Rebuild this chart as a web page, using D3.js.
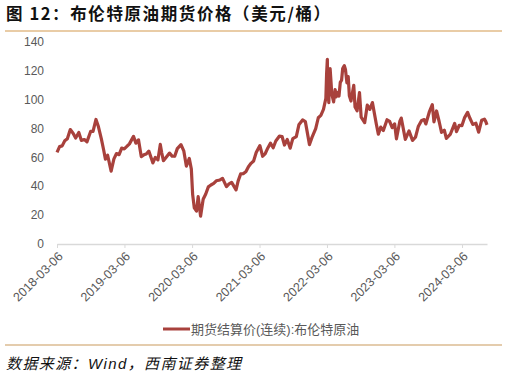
<!DOCTYPE html>
<html>
<head>
<meta charset="utf-8">
<script src="https://cdn.jsdelivr.net/npm/d3@7"></script>
<style>
  body { margin: 0; background: #fff; }
  svg { display: block; font-family: "Liberation Sans", Arial, "Noto Sans CJK SC", sans-serif; }
</style>
</head>
<body>
<div id="chart"></div>
<script>
/* Brent futures settlement (continuous), USD/bbl */
var dates = [
  "2018-03-06","2018-03-20","2018-04-03","2018-04-17","2018-05-01","2018-05-17","2018-06-01","2018-06-15",
  "2018-07-02","2018-07-16","2018-08-01","2018-08-15","2018-09-04","2018-09-17","2018-10-03","2018-10-16",
  "2018-11-01","2018-11-13","2018-11-23","2018-12-05","2018-12-24","2019-01-08","2019-01-22","2019-02-05",
  "2019-02-19","2019-03-05","2019-03-19","2019-04-02","2019-04-24","2019-05-07","2019-05-21","2019-06-05",
  "2019-06-19","2019-07-02","2019-07-16","2019-08-07","2019-08-20","2019-09-03","2019-09-16","2019-09-24",
  "2019-10-03","2019-10-17","2019-11-05","2019-11-19","2019-12-03","2019-12-17","2020-01-06","2020-01-21",
  "2020-02-04","2020-02-20","2020-03-02","2020-03-09","2020-03-18","2020-03-30","2020-04-08","2020-04-21",
  "2020-05-05","2020-05-19","2020-06-02","2020-06-16","2020-07-01","2020-07-15","2020-08-04","2020-08-18",
  "2020-09-08","2020-09-22","2020-10-06","2020-10-30","2020-11-10","2020-11-24","2020-12-08","2020-12-22",
  "2021-01-05","2021-01-19","2021-02-02","2021-02-16","2021-03-08","2021-03-23","2021-04-06","2021-04-20",
  "2021-05-04","2021-05-19","2021-06-02","2021-06-22","2021-07-06","2021-07-19","2021-08-03","2021-08-19",
  "2021-09-02","2021-09-21","2021-10-05","2021-10-25","2021-11-09","2021-11-26","2021-12-01","2021-12-15",
  "2022-01-04","2022-01-18","2022-02-01","2022-02-15","2022-02-28","2022-03-04","2022-03-08","2022-03-10",
  "2022-03-16","2022-03-18","2022-03-23","2022-03-28","2022-04-01","2022-04-11","2022-04-19","2022-04-25",
  "2022-05-02","2022-05-10","2022-05-17","2022-05-24","2022-05-30","2022-06-08","2022-06-14","2022-06-22",
  "2022-06-29","2022-07-05","2022-07-14","2022-07-29","2022-08-05","2022-08-16","2022-08-29","2022-09-07",
  "2022-09-26","2022-10-10","2022-10-24","2022-11-07",
  "2022-11-28","2022-12-09","2022-12-22","2023-01-05","2023-01-25","2023-02-08","2023-02-22","2023-03-07",
  "2023-03-17","2023-04-04","2023-04-12","2023-05-04","2023-05-24","2023-06-12","2023-06-28","2023-07-13",
  "2023-07-31","2023-08-14","2023-08-23","2023-09-12","2023-09-27","2023-10-06","2023-10-20","2023-11-03",
  "2023-11-16","2023-12-01","2023-12-12","2024-01-02","2024-01-26","2024-02-05","2024-02-20","2024-03-05",
  "2024-03-19","2024-04-05","2024-04-17","2024-05-03","2024-05-20","2024-06-04","2024-06-20","2024-07-05",
  "2024-07-12","2024-07-19"
];
var prices = [
  63.5,67.5,68.0,71.5,73.0,79.3,76.8,73.4,
  77.3,71.8,72.4,70.8,78.0,78.0,86.3,81.4,
  72.9,65.5,58.8,61.5,50.5,59.0,62.7,61.9,
  66.5,65.9,67.6,69.4,74.6,69.9,72.2,60.6,
  61.8,62.4,64.4,56.2,60.0,58.3,69.0,63.0,
  57.7,59.9,63.0,60.9,60.8,66.1,68.9,64.6,
  54.0,59.3,51.9,34.4,25.0,22.8,32.8,19.3,
  31.0,34.7,39.6,40.9,42.0,43.8,44.4,45.5,
  39.8,41.7,42.7,37.5,43.6,48.6,48.8,50.1,
  53.6,55.9,57.5,63.4,68.2,60.8,62.7,66.6,
  69.9,66.7,71.4,74.8,74.5,68.6,72.4,66.4,
  73.0,74.4,82.6,86.0,84.8,72.7,68.9,73.9,
  80.0,87.5,89.2,93.3,100.9,118.0,128.0,109.0,
  98.0,108.0,121.6,112.0,104.0,98.5,107.0,102.0,
  105.0,102.5,112.0,113.5,121.6,123.6,121.0,111.7,
  116.0,102.8,99.1,110.0,94.9,92.3,105.0,88.0,
  84.1,96.2,93.3,98.0,
  83.2,76.1,81.0,78.7,86.1,85.0,80.6,83.3,
  72.9,84.9,87.3,72.5,78.4,71.8,74.0,81.4,
  85.6,86.2,83.2,92.0,96.6,84.6,92.2,84.9,
  77.4,78.9,73.2,75.9,83.6,77.9,82.3,82.0,
  87.4,91.2,87.3,82.9,83.7,77.5,85.7,86.5,
  85.0,82.6
];
var tickDates = ["2018-03-06","2019-03-06","2020-03-06","2021-03-06","2022-03-06","2023-03-06","2024-03-06"];
var yTicks = [0, 20, 40, 60, 80, 100, 120, 140];

var titleText = "图 12：布伦特原油期货价格（美元/桶）";
var legendText = "期货结算价(连续):布伦特原油";
var sourceText = "数据来源：Wind，西南证券整理";

var parse = d3.timeParse("%Y-%m-%d");
var data = dates.map(function(d, i) {
  return { date: parse(d), value: prices[i] };
});

var W = 507, H = 378;
var svg = d3.select("#chart").append("svg")
  .attr("width", W)
  .attr("height", H);

/* title + rules */
svg.append("text")
  .attr("x", 6)
  .attr("y", 20)
  .attr("font-size", 16.5)
  .attr("font-weight", "bold")
  .attr("letter-spacing", 1.6)
  .attr("font-family", "'Noto Sans CJK SC', sans-serif")
  .attr("fill", "#111")
  .text(titleText);
svg.append("line")
  .attr("x1", 5).attr("x2", 502)
  .attr("y1", 31).attr("y2", 31)
  .attr("stroke", "#d39a4f").attr("stroke-width", 1.2);
svg.append("line")
  .attr("x1", 5).attr("x2", 502)
  .attr("y1", 345).attr("y2", 345)
  .attr("stroke", "#c99a5c").attr("stroke-width", 1.2);

/* scales */
var x = d3.scaleTime()
  .domain([data[0].date, data[data.length - 1].date])
  .range([57, 487]);
var y = d3.scaleLinear()
  .domain([0, 140])
  .range([244, 42]);

/* y labels */
svg.append("g")
  .selectAll("text")
  .data(yTicks)
  .enter()
  .append("text")
  .attr("x", 44)
  .attr("y", function(d) { return y(d); })
  .attr("dy", "0.35em")
  .attr("text-anchor", "end")
  .attr("font-size", 12)
  .attr("fill", "#595959")
  .text(function(d) { return d; });

/* x axis */
var gx = svg.append("g")
  .attr("transform", "translate(0," + y(0) + ")")
  .call(d3.axisBottom(x)
    .tickValues(tickDates.map(parse))
    .tickSize(4)
    .tickSizeOuter(0)
    .tickFormat(d3.timeFormat("%Y-%m-%d")));
gx.select(".domain").attr("stroke", "#d9d9d9").attr("stroke-width", 1.5);
gx.selectAll(".tick line").attr("stroke", "#d9d9d9");
gx.selectAll(".tick text")
  .attr("x", 0)
  .attr("y", 0)
  .attr("dy", "0.35em")
  .attr("text-anchor", "end")
  .attr("transform", "translate(3,10) rotate(-45)")
  .attr("font-size", 12.5)
  .attr("font-family", "'Liberation Sans', Arial, sans-serif")
  .attr("fill", "#595959");

/* series */
var line = d3.line()
  .x(function(d) { return x(d.date); })
  .y(function(d) { return y(d.value); });
svg.append("path")
  .datum(data)
  .attr("fill", "none")
  .attr("stroke", "#a8413c")
  .attr("stroke-width", 3.2)
  .attr("stroke-linejoin", "round")
  .attr("d", line);

/* legend */
svg.append("line")
  .attr("x1", 163).attr("x2", 190)
  .attr("y1", 329).attr("y2", 329)
  .attr("stroke", "#a8413c").attr("stroke-width", 3);
svg.append("text")
  .attr("x", 191)
  .attr("y", 329)
  .attr("dy", "0.35em")
  .attr("font-size", 13)
  .attr("fill", "#595959")
  .text(legendText);

/* source */
svg.append("text")
  .attr("x", 6)
  .attr("y", 369)
  .attr("font-size", 15)
  .attr("font-style", "italic")
  .attr("letter-spacing", 1.4)
  .attr("fill", "#111")
  .text(sourceText);
</script>
</body>
</html>
